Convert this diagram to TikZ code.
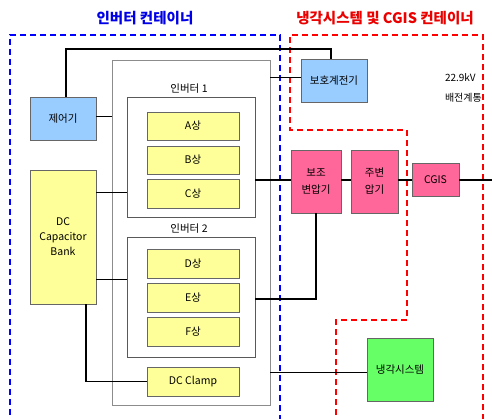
\documentclass[tikz,border=0pt]{standalone}
\usepackage{fontspec}
\newfontfamily\kr{Noto Sans CJK KR}
\begin{document}
\begin{tikzpicture}[x=1pt,y=-1pt,
  every node/.style={font=\kr\fontsize{10.5}{12}\selectfont, outer sep=0pt, inner sep=1pt, align=center},
  base/.style={draw=black!60, line width=0.8pt, anchor=north west},
  yel/.style={base, fill={rgb,255:red,255;green,255;blue,153}},
  blu/.style={base, fill={rgb,255:red,153;green,204;blue,255}},
  pnk/.style={base, fill={rgb,255:red,255;green,102;blue,153}},
  grn/.style={base, fill={rgb,255:red,102;green,255;blue,102}},
  frame/.style={draw=black!45, line width=0.9pt, anchor=north west, inner sep=0pt},
  iframe/.style={draw=black!65, line width=0.9pt, anchor=north west, inner sep=0pt},
  wire/.style={draw=black, line width=1.3pt},
  wiret/.style={draw=black, line width=1pt},
  bluedash/.style={draw={rgb,255:red,0;green,0;blue,255}, line width=2pt, dash pattern=on 6pt off 4pt},
  reddash/.style={draw={rgb,255:red,255;green,0;blue,0}, line width=2pt, dash pattern=on 6pt off 4pt},
  ttl/.style={font=\kr\bfseries\fontsize{14.5}{16}\selectfont}
]
\clip (0,0) rectangle (492,419);
\fill[white] (0,0) rectangle (492,419);

% containers
\draw[bluedash] (10,425) -- (10,35) -- (280,35) -- (280,425);
\draw[reddash] (336,425) -- (336,320) -- (407,320) -- (407,130) -- (290,130) -- (290,35) -- (483,35) -- (483,425);
\node[ttl, text={rgb,255:red,0;green,0;blue,230}] (t1) at (145,18) {인버터 컨테이너};
\node[ttl, text={rgb,255:red,235;green,0;blue,0}] (t2) at (385,18) {냉각시스템 및 CGIS 컨테이너};

% frames
\node[frame, minimum width=158pt, minimum height=345pt] (outer) at (112,60) {};
\node[iframe, minimum width=128pt, minimum height=120pt] (inv1) at (127,97) {};
\node[iframe, minimum width=128pt, minimum height=120pt] (inv2) at (127,237) {};
\node (l1) at (189,89) {인버터 1};
\node (l2) at (189,229) {인버터 2};

% phase boxes
\node[yel, minimum width=92pt, minimum height=28pt] (pA) at (147,112) {A상};
\node[yel, minimum width=92pt, minimum height=28pt] (pB) at (147,146) {B상};
\node[yel, minimum width=92pt, minimum height=29pt] (pC) at (147,179) {C상};
\node[yel, minimum width=92pt, minimum height=29pt] (pD) at (147,249) {D상};
\node[yel, minimum width=92pt, minimum height=29pt] (pE) at (147,283) {E상};
\node[yel, minimum width=92pt, minimum height=29pt] (pF) at (147,317) {F상};
\node[yel, minimum width=92pt, minimum height=29pt] (clamp) at (147,367) {DC Clamp};

% left side
\node[blu, minimum width=66pt, minimum height=43pt] (ctrl) at (30,97) {제어기};
\node[yel, minimum width=66pt, minimum height=134pt] (cap) at (30,170) {DC\\[3pt]Capacitor\\[3pt]Bank};

% right side
\node[blu, minimum width=66pt, minimum height=43pt] (relay) at (301,59) {보호계전기};
\node[pnk, minimum width=50pt, minimum height=63pt] (aux) at (291,150) {보조\\[5pt]변압기};
\node[pnk, minimum width=47pt, minimum height=63pt] (main) at (351,150) {주변\\[5pt]압기};
\node[pnk, minimum width=47pt, minimum height=33pt] (cgis) at (412,163) {CGIS};
\node[grn, minimum width=66pt, minimum height=63pt] (cool) at (367,338) {냉각시스템};
\node[anchor=west, font=\kr\fontsize{10}{12}\selectfont] (kv) at (444,78) {22.9kV};
\node[anchor=west, font=\kr\fontsize{10}{12}\selectfont] (grid) at (444,98) {배전계통};
\coordinate (edge) at (492,180);

% connectors
\coordinate (ctop) at (66,49);
\draw[wire] (ctrl.north -| ctop) -- (ctop) -- (331,49) coordinate (rt) -- (rt |- relay.north);
\draw[wiret] (ctrl.east |- 0,117) coordinate (c1) -- (c1 -| outer.west);
\draw[wiret] (outer.east |- 0,78) coordinate (c2) -- (c2 -| relay.west);
\draw[wiret] (cap.east |- 0,193) coordinate (c3) -- (c3 -| inv1.west);
\draw[wiret] (cap.east |- 0,280) coordinate (c4) -- (c4 -| inv2.west);
\draw[wire] (cap.south -| 86,0) coordinate (c5) -- (c5 |- clamp.west) -- (clamp.west);
\draw[wire] (inv1.east |- 0,180) coordinate (c6) -- (c6 -| aux.west);
\draw[wire] (aux.east |- 0,180) coordinate (c7) -- (c7 -| main.west);
\draw[wire] (main.east |- 0,180) coordinate (c8) -- (c8 -| cgis.west);
\draw[wire] (cgis.east |- 0,180) coordinate (c9) -- (edge);
\draw[wire] (aux.south -| 316,0) coordinate (c10) -- (c10 |- 0,299) -- (c10 |- 0,299 -| inv2.east);
\draw[wiret] (outer.east |- 0,372) coordinate (c11) -- (c11 -| cool.west);
\end{tikzpicture}
\end{document}
